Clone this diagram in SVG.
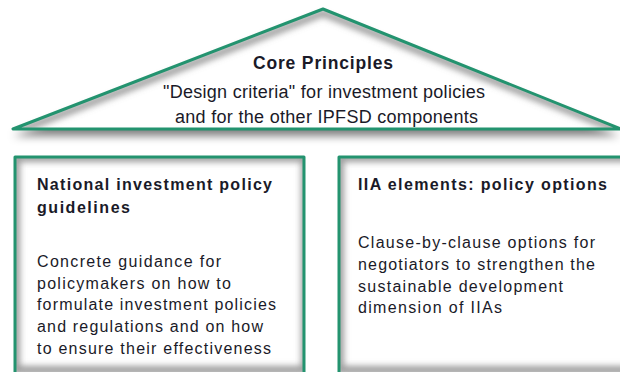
<svg xmlns="http://www.w3.org/2000/svg" width="620" height="372" viewBox="0 0 620 372">
  <defs>
    <filter id="blur4" x="-20%" y="-40%" width="140%" height="180%">
      <feGaussianBlur stdDeviation="4"/>
    </filter>
    <filter id="blur3" x="-20%" y="-20%" width="140%" height="140%">
      <feGaussianBlur stdDeviation="3"/>
    </filter>
    <clipPath id="triClip"><polygon points="323,9 13,129 620,129"/></clipPath>
    <clipPath id="leftClip"><rect x="15" y="157" width="289" height="222"/></clipPath>
    <clipPath id="rightClip"><rect x="339" y="157" width="300" height="222"/></clipPath>
  </defs>
  <style>
    .fill { fill: #ffffff; }
    .edge { fill: none; stroke: #23936f; stroke-width: 3; stroke-linejoin: round; }
    .shadow { fill: #000000; fill-opacity: 0.5; }
    .inshade { fill: none; stroke: #7a7a7a; stroke-opacity: 0.75; }
    text { font-family: "Liberation Sans", Arial, sans-serif; fill: #1a1a28; }
    .head { font-weight: bold; font-size: 16px; }
    .body { font-size: 16px; }
    .title { font-weight: bold; font-size: 17.5px; }
    .sub { font-size: 18px; }
  </style>
  <rect width="620" height="372" fill="#ffffff"/>

  <g id="core-principles">
    <polygon class="shadow" points="323,16 13,136 620,136" filter="url(#blur4)"/>
    <polygon class="fill" points="323,9 13,129 620,129"/>
    <g clip-path="url(#triClip)">
      <polyline class="inshade" stroke-width="7" points="13,133 323,13 625,133" filter="url(#blur3)"/>
    </g>
    <polygon class="edge" points="323,9 13,129 621,129"/>
    <text class="title" x="253" y="69" textLength="140" lengthAdjust="spacing">Core Principles</text>
    <text class="sub" x="163" y="98" textLength="322" lengthAdjust="spacing">"Design criteria" for investment policies</text>
    <text class="sub" x="175" y="123" textLength="303" lengthAdjust="spacing">and for the other IPFSD components</text>
  </g>

  <g id="national-guidelines">
    <rect class="fill" x="15" y="157" width="289" height="222"/>
    <g clip-path="url(#leftClip)">
      <rect class="inshade" stroke-width="8" x="16" y="158" width="289" height="212" filter="url(#blur3)"/>
    </g>
    <rect class="edge" x="15" y="157" width="289" height="222"/>
    <text class="head" x="37" y="190" textLength="235" lengthAdjust="spacing">National investment policy</text>
    <text class="head" x="37" y="213" textLength="93" lengthAdjust="spacing">guidelines</text>
    <text class="body" x="37" y="267" textLength="184" lengthAdjust="spacing">Concrete guidance for</text>
    <text class="body" x="37" y="289" textLength="194" lengthAdjust="spacing">policymakers on how to</text>
    <text class="body" x="37" y="310" textLength="239" lengthAdjust="spacing">formulate investment policies</text>
    <text class="body" x="37" y="332" textLength="226" lengthAdjust="spacing">and regulations and on how</text>
    <text class="body" x="37" y="354" textLength="234" lengthAdjust="spacing">to ensure their effectiveness</text>
  </g>

  <g id="iia-elements">
    <rect class="fill" x="339" y="157" width="300" height="222"/>
    <g clip-path="url(#rightClip)">
      <rect class="inshade" stroke-width="8" x="340" y="158" width="300" height="212" filter="url(#blur3)"/>
    </g>
    <rect class="edge" x="339" y="157" width="300" height="222"/>
    <text class="head" x="358" y="190" textLength="249" lengthAdjust="spacing">IIA elements: policy options</text>
    <text class="body" x="358" y="248" textLength="237" lengthAdjust="spacing">Clause-by-clause options for</text>
    <text class="body" x="358" y="270" textLength="237" lengthAdjust="spacing">negotiators to strengthen the</text>
    <text class="body" x="358" y="292" textLength="205" lengthAdjust="spacing">sustainable development</text>
    <text class="body" x="358" y="313" textLength="144" lengthAdjust="spacing">dimension of IIAs</text>
  </g>

  <g id="connectors"/>
</svg>
